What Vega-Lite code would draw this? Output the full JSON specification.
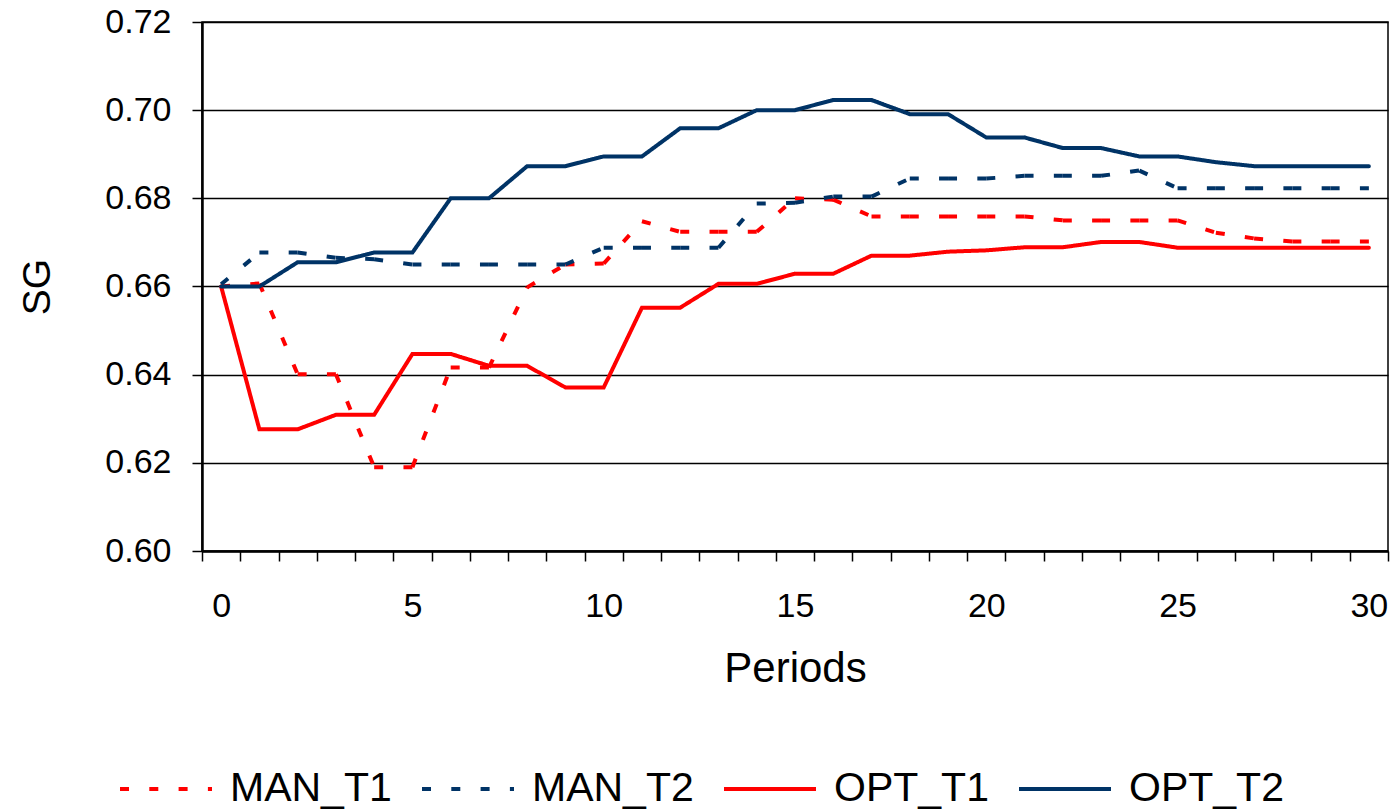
{
  "$schema": "https://vega.github.io/schema/vega-lite/v6.json",
  "width": 1186,
  "height": 529,
  "autosize": {"type": "none"},
  "padding": {"left": 202, "top": 22, "right": 9, "bottom": 259},
  "background": "white",
  "config": {
    "font": "Liberation Sans",
    "view": {"stroke": "black", "strokeWidth": 1.5},
    "axis": {
      "labelFont": "Liberation Sans",
      "titleFont": "Liberation Sans",
      "labelColor": "black",
      "titleColor": "black",
      "titleFontWeight": "normal",
      "domainColor": "black",
      "tickColor": "black"
    }
  },
  "data": {
    "values": [
      {"period": 0, "MAN_T1": 0.660, "MAN_T2": 0.6605, "OPT_T1": 0.660, "OPT_T2": 0.660},
      {"period": 1, "MAN_T1": 0.6607, "MAN_T2": 0.6677, "OPT_T1": 0.6276, "OPT_T2": 0.660},
      {"period": 2, "MAN_T1": 0.6401, "MAN_T2": 0.6677, "OPT_T1": 0.6276, "OPT_T2": 0.6655},
      {"period": 3, "MAN_T1": 0.6401, "MAN_T2": 0.6665, "OPT_T1": 0.6309, "OPT_T2": 0.6655},
      {"period": 4, "MAN_T1": 0.619, "MAN_T2": 0.6662, "OPT_T1": 0.6309, "OPT_T2": 0.6677},
      {"period": 5, "MAN_T1": 0.619, "MAN_T2": 0.665, "OPT_T1": 0.6447, "OPT_T2": 0.6677},
      {"period": 6, "MAN_T1": 0.6416, "MAN_T2": 0.665, "OPT_T1": 0.6447, "OPT_T2": 0.680},
      {"period": 7, "MAN_T1": 0.6416, "MAN_T2": 0.665, "OPT_T1": 0.642, "OPT_T2": 0.680},
      {"period": 8, "MAN_T1": 0.6598, "MAN_T2": 0.665, "OPT_T1": 0.642, "OPT_T2": 0.6873},
      {"period": 9, "MAN_T1": 0.665, "MAN_T2": 0.665, "OPT_T1": 0.6371, "OPT_T2": 0.6873},
      {"period": 10, "MAN_T1": 0.6652, "MAN_T2": 0.6688, "OPT_T1": 0.6371, "OPT_T2": 0.6895},
      {"period": 11, "MAN_T1": 0.6748, "MAN_T2": 0.6688, "OPT_T1": 0.6552, "OPT_T2": 0.6895},
      {"period": 12, "MAN_T1": 0.6724, "MAN_T2": 0.6688, "OPT_T1": 0.6552, "OPT_T2": 0.6959},
      {"period": 13, "MAN_T1": 0.6724, "MAN_T2": 0.6688, "OPT_T1": 0.6606, "OPT_T2": 0.6959},
      {"period": 14, "MAN_T1": 0.6724, "MAN_T2": 0.6788, "OPT_T1": 0.6606, "OPT_T2": 0.700},
      {"period": 15, "MAN_T1": 0.680, "MAN_T2": 0.679, "OPT_T1": 0.6629, "OPT_T2": 0.700},
      {"period": 16, "MAN_T1": 0.6797, "MAN_T2": 0.6804, "OPT_T1": 0.6629, "OPT_T2": 0.7023},
      {"period": 17, "MAN_T1": 0.6759, "MAN_T2": 0.6804, "OPT_T1": 0.667, "OPT_T2": 0.7023},
      {"period": 18, "MAN_T1": 0.6759, "MAN_T2": 0.6845, "OPT_T1": 0.667, "OPT_T2": 0.6991},
      {"period": 19, "MAN_T1": 0.6759, "MAN_T2": 0.6845, "OPT_T1": 0.6679, "OPT_T2": 0.6991},
      {"period": 20, "MAN_T1": 0.6759, "MAN_T2": 0.6845, "OPT_T1": 0.6682, "OPT_T2": 0.6938},
      {"period": 21, "MAN_T1": 0.6759, "MAN_T2": 0.6851, "OPT_T1": 0.6689, "OPT_T2": 0.6938},
      {"period": 22, "MAN_T1": 0.675, "MAN_T2": 0.6851, "OPT_T1": 0.6689, "OPT_T2": 0.6914},
      {"period": 23, "MAN_T1": 0.675, "MAN_T2": 0.6851, "OPT_T1": 0.6701, "OPT_T2": 0.6914},
      {"period": 24, "MAN_T1": 0.675, "MAN_T2": 0.6863, "OPT_T1": 0.6701, "OPT_T2": 0.6895},
      {"period": 25, "MAN_T1": 0.675, "MAN_T2": 0.6823, "OPT_T1": 0.6688, "OPT_T2": 0.6895},
      {"period": 26, "MAN_T1": 0.6722, "MAN_T2": 0.6823, "OPT_T1": 0.6688, "OPT_T2": 0.6882},
      {"period": 27, "MAN_T1": 0.6709, "MAN_T2": 0.6823, "OPT_T1": 0.6688, "OPT_T2": 0.6873},
      {"period": 28, "MAN_T1": 0.6702, "MAN_T2": 0.6823, "OPT_T1": 0.6688, "OPT_T2": 0.6873},
      {"period": 29, "MAN_T1": 0.6702, "MAN_T2": 0.6823, "OPT_T1": 0.6688, "OPT_T2": 0.6873},
      {"period": 30, "MAN_T1": 0.6702, "MAN_T2": 0.6823, "OPT_T1": 0.6688, "OPT_T2": 0.6873}
    ]
  },
  "transform": [
    {"fold": ["MAN_T1", "MAN_T2", "OPT_T1", "OPT_T2"], "as": ["series", "SG"]}
  ],
  "encoding": {
    "x": {
      "field": "period",
      "type": "quantitative",
      "title": "Periods",
      "scale": {"domain": [-0.5, 30.5], "nice": false, "zero": false},
      "axis": {
        "values": [-0.5, 0, 0.5, 1.5, 2.5, 3.5, 4.5, 5, 5.5, 6.5, 7.5, 8.5, 9.5, 10, 10.5, 11.5, 12.5, 13.5, 14.5, 15, 15.5, 16.5, 17.5, 18.5, 19.5, 20, 20.5, 21.5, 22.5, 23.5, 24.5, 25, 25.5, 26.5, 27.5, 28.5, 29.5, 30, 30.5],
        "labelExpr": "datum.value % 5 === 0 ? format(datum.value, 'd') : ''",
        "tickOpacity": {"condition": {"test": "datum.value % 5 === 0", "value": 0}, "value": 1},
        "grid": false,
        "tickSize": 10,
        "tickWidth": 1.5,
        "domainWidth": 2.5,
        "labelFontSize": 34,
        "labelPadding": 28,
        "labelOverlap": false,
        "labelFlush": false,
        "labelBound": false,
        "titleFontSize": 42,
        "titlePadding": 25
      }
    },
    "y": {
      "field": "SG",
      "type": "quantitative",
      "title": "SG",
      "scale": {"domain": [0.6, 0.72], "nice": false, "zero": false},
      "axis": {
        "values": [0.6, 0.62, 0.64, 0.66, 0.68, 0.7, 0.72],
        "format": ".2f",
        "grid": true,
        "gridColor": "black",
        "gridWidth": 1.5,
        "gridOpacity": 1,
        "tickSize": 10,
        "tickWidth": 1.5,
        "domainWidth": 2.5,
        "labelFontSize": 34,
        "labelPadding": 21,
        "labelOverlap": false,
        "titleFontSize": 39,
        "titlePadding": 47
      }
    },
    "color": {
      "field": "series",
      "type": "nominal",
      "scale": {
        "domain": ["MAN_T1", "MAN_T2", "OPT_T1", "OPT_T2"],
        "range": ["#FF0000", "#003366", "#FF0000", "#003366"]
      },
      "legend": {
        "orient": "none",
        "legendX": -84,
        "legendY": 719,
        "direction": "horizontal",
        "columns": 4,
        "title": null,
        "symbolType": "stroke",
        "symbolSize": 8464,
        "symbolStrokeWidth": 4,
        "labelFontSize": 41,
        "labelFont": "Liberation Sans",
        "labelColor": "black",
        "labelOffset": 16,
        "labelLimit": 0,
        "columnPadding": 22,
        "padding": 0
      }
    },
    "strokeDash": {
      "field": "series",
      "type": "nominal",
      "scale": {
        "domain": ["MAN_T1", "MAN_T2", "OPT_T1", "OPT_T2"],
        "range": [[9, 20.3], [9, 20.3], [1, 0], [1, 0]]
      },
      "legend": {
        "orient": "none",
        "legendX": -84,
        "legendY": 719,
        "direction": "horizontal",
        "columns": 4,
        "title": null,
        "symbolType": "stroke",
        "symbolSize": 8464,
        "symbolStrokeWidth": 4,
        "labelFontSize": 41,
        "labelFont": "Liberation Sans",
        "labelColor": "black",
        "labelOffset": 16,
        "labelLimit": 0,
        "columnPadding": 22,
        "padding": 0
      }
    }
  },
  "layer": [
    {
      "transform": [
        {"filter": "datum.series === 'MAN_T1' || datum.series === 'MAN_T2'"},
        {
          "window": [
            {"op": "lead", "field": "SG", "as": "SG2"},
            {"op": "lead", "field": "period", "as": "period2"}
          ],
          "groupby": ["series"],
          "sort": [{"field": "period", "order": "ascending"}]
        },
        {"filter": "datum.period2 != null"}
      ],
      "mark": {"type": "rule", "strokeWidth": 4},
      "encoding": {
        "x2": {"field": "period2"},
        "y2": {"field": "SG2"}
      }
    },
    {
      "transform": [
        {"filter": "datum.series === 'OPT_T1' || datum.series === 'OPT_T2'"}
      ],
      "mark": {"type": "line", "strokeWidth": 4, "strokeCap": "round"}
    }
  ]
}
